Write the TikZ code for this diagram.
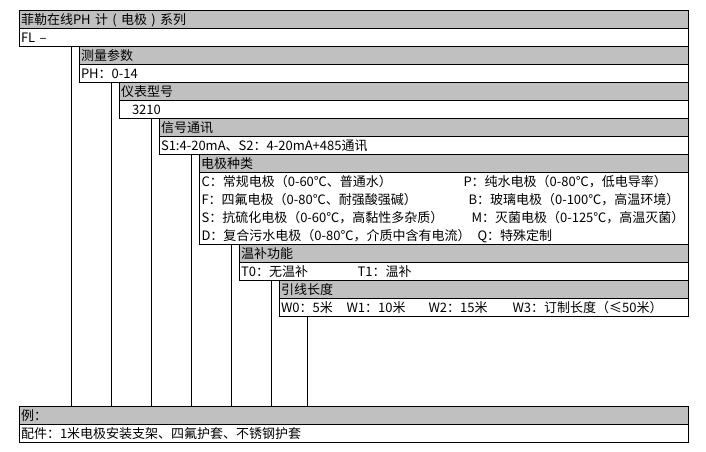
\documentclass[tikz,border=0pt]{standalone}
\usepackage{fontspec}
\setmainfont{Noto Sans CJK SC}
\usepackage{tikz}
\usepackage{xcolor}
\definecolor{hdgrey}{RGB}{192,192,192}

\begin{document}
\begin{tikzpicture}[x=1pt,y=-1pt,line width=1pt,
  font=\fontsize{13}{15}\selectfont,
  hd/.style={draw,fill=hdgrey,anchor=north west,minimum height=18pt,inner xsep=2pt,inner ysep=0pt,outer sep=0pt,text height=9.5pt,text depth=0pt,align=left},
  vl/.style={hd,fill=white},
  tx/.style={anchor=west,inner sep=0pt,text height=9.5pt,text depth=0pt}]

\useasboundingbox (0,0) rectangle (706,451);

% series
\node[hd,text width=665pt] (h1) at (19,10.5) {菲勒在线PH 计 ( 电极 ) 系列};
\node[vl,text width=665pt] (v1) at (h1.south west) {FL –};

\node[hd,text width=605pt] (h2) at ([xshift=60pt]v1.south west) {测量参数};
\node[vl,text width=605pt] (v2) at (h2.south west) {PH：0-14};

\node[hd,text width=565pt] (h3) at ([xshift=40pt]v2.south west) {仪表型号};
\node[vl,text width=565pt] (v3) at (h3.south west) {\hspace{11pt}3210};

\node[hd,text width=525pt] (h4) at ([xshift=40pt]v3.south west) {信号通讯};
\node[vl,text width=525pt] (v4) at (h4.south west) {S1:4-20mA、S2：4-20mA+485通讯};

% electrode types
\node[hd,text width=485pt] (h5) at ([xshift=40pt]v4.south west) {电极种类};
\node[vl,text width=485pt,minimum height=72pt] (v5) at (h5.south west) {};

\node[tx] (c) at (201,181.5) {C：常规电极（0-60℃、普通水）};
\node[tx] (p) at (463,181.5) {P：纯水电极（0-80℃，低电导率）};
\node[tx] (f) at (201,199.5) {F：四氟电极（0-80℃、耐强酸强碱）};
\node[tx] (b) at (468,199.5) {B：玻璃电极（0-100℃，高温环境）};
\node[tx] (s) at (201,217.5) {S：抗硫化电极（0-60℃，高黏性多杂质）};
\node[tx] (m) at (471,217.5) {M：灭菌电极（0-125℃，高温灭菌）};
\node[tx] (d) at (201,235.5) {D：复合污水电极（0-80℃，介质中含有电流）};
\node[tx] (q) at (477,235.5) {Q：特殊定制};

\node[hd,text width=445pt] (h6) at ([xshift=40pt]v5.south west) {温补功能};
\node[vl,text width=445pt] (v6) at (h6.south west) {T0：无温补};
\node[tx] (t1) at (357,271.5) {T1：温补};

\node[hd,text width=405pt] (h7) at ([xshift=40pt]v6.south west) {引线长度};
\node[vl,text width=405pt] (v7) at (h7.south west) {W0：5米};
\node[tx] (w1) at (346,307.5) {W1：10米};
\node[tx] (w2) at (428,307.5) {W2：15米};
\node[tx] (w3) at (512,307.5) {W3：订制长度（≤50米）};

% example
\node[hd,text width=665pt] (hx) at (19,406.5) {例：};
\node[vl,text width=665pt] (vx) at (hx.south west) {配件：1米电极安装支架、四氟护套、不锈钢护套};

% drop lines
\coordinate (t2) at ([xshift=-8pt]h2.north west);
\coordinate (t3) at ([xshift=-8pt]h3.north west);
\coordinate (t4) at ([xshift=-8pt]h4.north west);
\coordinate (t5) at ([xshift=-8pt]h5.north west);
\coordinate (t6) at ([xshift=-8pt]h6.north west);
\coordinate (t7) at ([xshift=-8pt]h7.north west);
\coordinate (t8) at ([xshift=28pt]v7.south west);

\draw (t2) -- (t2 |- hx.north);
\draw (t3) -- (t3 |- hx.north);
\draw (t4) -- (t4 |- hx.north);
\draw (t5) -- (t5 |- hx.north);
\draw (t6) -- (t6 |- hx.north);
\draw (t7) -- (t7 |- hx.north);
\draw (t8) -- (t8 |- hx.north);

\end{tikzpicture}
\end{document}
